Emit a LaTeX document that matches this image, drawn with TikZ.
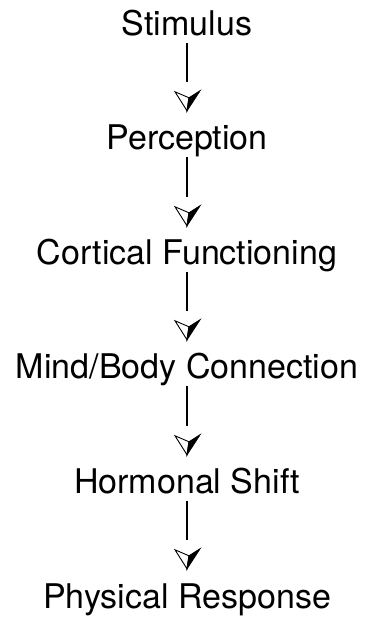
\documentclass[tikz,border=0pt]{standalone}
\usepackage{fontspec}
\setmainfont{TeX Gyre Heros}
\usepackage{tikz}
\usetikzlibrary{arrows.meta}

% half open, half filled vee
\pgfdeclarearrow{
  name=splitvee,
  setup code={
    \pgfarrowssettipend{0pt}
    \pgfarrowssetlineend{-29pt}
    \pgfarrowssetbackend{-20pt}
    \pgfarrowssetvisualbackend{-20pt}
    \pgfarrowshullpoint{0pt}{0pt}
    \pgfarrowshullpoint{-19pt}{-12pt}
    \pgfarrowshullpoint{-20pt}{13pt}
  },
  drawing code={
    \pgfsetlinewidth{0.9pt}
    \pgfsetdash{}{0pt}
    \pgfsetmiterjoin
    \pgfpathmoveto{\pgfpoint{0pt}{0pt}}
    \pgfpathlineto{\pgfpoint{-19pt}{-12pt}}
    \pgfpathlineto{\pgfpoint{-13pt}{2pt}}
    \pgfpathclose
    \pgfsetfillcolor{white}
    \pgfusepathqfillstroke
    \pgfpathmoveto{\pgfpoint{0pt}{0pt}}
    \pgfpathlineto{\pgfpoint{-13pt}{2pt}}
    \pgfpathlineto{\pgfpoint{-20pt}{13pt}}
    \pgfpathclose
    \pgfsetfillcolor{black}
    \pgfusepathqfillstroke
  }
}

\tikzset{stage/.style={inner sep=0, text height=24pt, text depth=7pt, anchor=base,
    font=\fontsize{34}{40}\selectfont}}
\tikzset{flow/.style={draw, line width=2.2pt, -splitvee, shorten >=15pt}}

\begin{document}
\begin{tikzpicture}[x=1pt, y=1pt]
  \useasboundingbox (0,0) rectangle (365,617);

  \node[stage] at (187, 581) (stim) {Stimulus};
  \node[stage] at (187, 467) (perc) {Perception};
  \node[stage] at (187, 352) (cort) {Cortical Functioning};
  \node[stage] at (187, 238) (mind) {Mind/Body Connection};
  \node[stage] at (187, 123) (horm) {Hormonal Shift};
  \node[stage] at (187, 9) (phys) {Physical Response};

    \draw[flow] (stim) -- (perc);
    \draw[flow] (perc) -- (cort);
    \draw[flow] (cort) -- (mind);
    \draw[flow] (mind) -- (horm);
    \draw[flow] (horm) -- (phys);
  \end{tikzpicture}
\end{document}
